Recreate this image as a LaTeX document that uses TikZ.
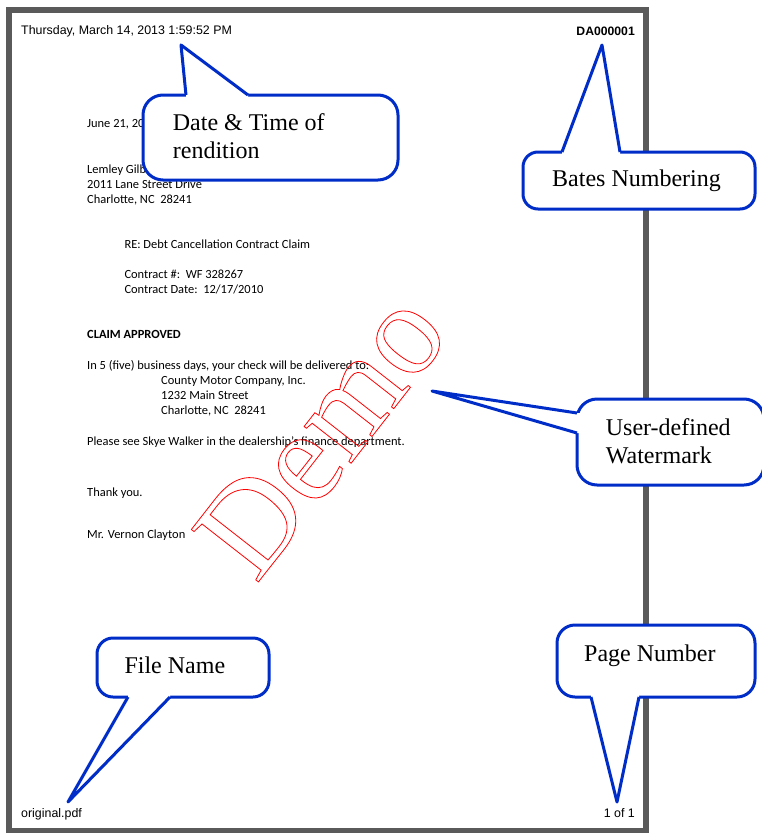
\documentclass[tikz,border=0pt]{standalone}
\usepackage{fontspec}
\usetikzlibrary{calc}
\setmainfont{Liberation Serif}
\newfontfamily\arialf{Liberation Sans}
\newfontfamily\calib{Carlito}
\definecolor{cblue}{RGB}{0,45,200}
\definecolor{framegray}{RGB}{90,90,90}
\newcommand{\outlinetext}[1]{\special{pdf:literal 1 Tr 0.8 w 1 0 0 RG}#1\special{pdf:literal 0 Tr 0 G}}
\begin{document}
\begin{tikzpicture}[x=1pt,y=-1pt,
  hdr/.style={font=\arialf\fontsize{12.4}{14}\selectfont, inner sep=0pt, anchor=base west},
  hdrb/.style={font=\arialf\bfseries\fontsize{12.2}{14}\selectfont, inner sep=0pt, anchor=base east},
  body/.style={font=\calib\fontsize{12.45}{15}\selectfont, inner sep=0pt, anchor=base west},
  bodyb/.style={font=\calib\bfseries\fontsize{12.45}{15}\selectfont, inner sep=0pt, anchor=base west},
  cbox/.style={draw=cblue, line width=3pt, fill=white, rounded corners=#1, inner sep=0pt, outer sep=0pt},
  ctext/.style={font=\fontsize{24}{27.6}\selectfont, inner sep=0pt, anchor=base west},
  ptr/.style={draw=cblue, line width=3pt, line join=round},
  wmark/.style={font=\fontsize{130}{130}\selectfont, inner sep=0pt, anchor=base west, rotate=52, text=red}
]
\useasboundingbox (0,0) rectangle (761,833);
\fill[white] (0,0) rectangle (761,833);
% page frame
\draw[framegray, line width=6pt] (9,9.7) rectangle (645.7,831);

% header / footer
\node[hdr] (hdate) at (21,34.5) {Thursday, March 14, 2013 1:59:52 PM};
\node[hdrb] (bates) at (635,35) {DA000001};
\node[hdr] (fname) at (21,817.3) {original.pdf};
\node[hdr, anchor=base east] (pnum) at (635,817.3) {1 of 1};

% letter body
\node[body] (l1) at (87,127.3) {June 21, 20};
\node[body] (l2) at (87,173.7) {Lemley Gilb};
\node[body] (l3) at (87,188.4) {2011 Lane Street Drive};
\node[body] (l4) at (87,203) {Charlotte, NC\ \ 28241};
\node[body] (l5) at (124.3,248.5) {RE: Debt Cancellation Contract Claim};
\node[body] (l6) at (124.3,278) {Contract \#:\ \ WF 328267};
\node[body] (l7) at (124.3,293.3) {Contract Date:\ \ 12/17/2010};
\node[bodyb] (l8) at (87,338.5) {CLAIM APPROVED};
\node[body] (l9) at (87,369.5) {In 5 (five) business days, your check will be delivered to:};
\node[body] (l10) at (161,384.5) {County Motor Company, Inc.};
\node[body] (l11) at (161,399.5) {1232 Main Street};
\node[body] (l12) at (161,414.5) {Charlotte, NC\ \ 28241};
\node[body] (l13) at (87,445) {Please see Skye Walker in the dealership’s finance department.};
\node[body] (l14) at (87,496) {Thank you.};
\node[body] (l15) at (87,538.5) {Mr. Vernon Clayton};

% watermark
\node[wmark] (wm) at (256,585) {\outlinetext{Demo}};

% callout 1: Date & Time
\node[cbox=20pt, minimum width=255pt, minimum height=85pt] (b1) at (270.5,137.5) {};
\coordinate (p1) at (181,45);
\coordinate (b1l) at (186,95);
\coordinate (b1r) at (248,95);
\fill[white] ($(b1l)+(0,4)$) -- (b1l) -- (p1) -- (b1r) -- ($(b1r)+(0,4)$) -- cycle;
\draw[ptr] (b1l) -- (p1) -- (b1r);
\node[ctext] (t1a) at (172.7,130.7) {Date \& Time of};
\node[ctext] (t1b) at (172.7,158.3) {rendition};

% callout 2: Bates
\node[cbox=15pt, minimum width=232pt, minimum height=57pt] (b2) at (639,180.5) {};
\coordinate (p2) at (602,45);
\coordinate (b2l) at (562,152);
\coordinate (b2r) at (620,152);
\fill[white] ($(b2l)+(0,4)$) -- (b2l) -- (p2) -- (b2r) -- ($(b2r)+(0,4)$) -- cycle;
\draw[ptr] (b2l) -- (p2) -- (b2r);
\node[ctext] (t2) at (552,186) {Bates Numbering};

% callout 3: Watermark
\node[cbox=20pt, minimum width=187pt, minimum height=86pt] (b3) at (670.5,442) {};
\coordinate (p3) at (432,391);
\coordinate (b3t) at (577,413);
\coordinate (b3b) at (577,433);
\fill[white] ($(b3t)+(4,0)$) -- (b3t) -- (p3) -- (b3b) -- ($(b3b)+(4,0)$) -- cycle;
\draw[ptr] (b3t) -- (p3) -- (b3b);
\node[ctext] (t3a) at (605.7,435) {User-defined};
\node[ctext] (t3b) at (605.7,463.3) {Watermark};

% callout 4: File Name
\node[cbox=16pt, minimum width=172pt, minimum height=59pt] (b4) at (183,667.5) {};
\coordinate (p4) at (68,802);
\coordinate (b4l) at (128,697);
\coordinate (b4r) at (170,697);
\fill[white] ($(b4l)+(0,-4)$) -- (b4l) -- (p4) -- (b4r) -- ($(b4r)+(0,-4)$) -- cycle;
\draw[ptr] (b4l) -- (p4) -- (b4r);
\node[ctext] (t4) at (124.3,673.3) {File Name};

% callout 5: Page Number
\node[cbox=18pt, minimum width=198pt, minimum height=72pt] (b5) at (656,661) {};
\coordinate (p5) at (617,802);
\coordinate (b5l) at (591,697);
\coordinate (b5r) at (639,697);
\fill[white] ($(b5l)+(0,-4)$) -- (b5l) -- (p5) -- (b5r) -- ($(b5r)+(0,-4)$) -- cycle;
\draw[ptr] (b5l) -- (p5) -- (b5r);
\node[ctext] (t5) at (584,661.7) {Page Number};
\end{tikzpicture}
\end{document}
